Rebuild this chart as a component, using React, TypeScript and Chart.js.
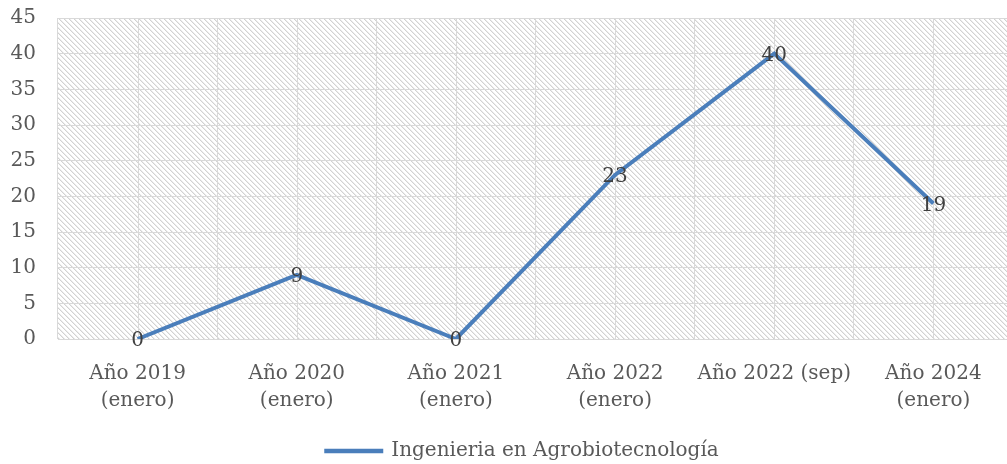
import React, { useEffect, useRef } from "react";
import { Chart, registerables } from "chart.js";
Chart.register(...registerables);

const categories: (string | string[])[] = [
  ["Año 2019", "(enero)"],
  ["Año 2020", "(enero)"],
  ["Año 2021", "(enero)"],
  ["Año 2022", "(enero)"],
  "Año 2022 (sep)",
  ["Año 2024", "(enero)"],
];
const values = [0, 9, 0, 23, 40, 19];
const seriesName = "Ingenieria en Agrobiotecnología";
const yMin = 0;
const yMax = 45;
const yStep = 5;

const FONT = "'DejaVu Serif', serif";
const LINE_COLOR = "#4a7ebb";
const TEXT_COLOR = "#595959";
const GRID_COLOR = "#d9d9d9";

function makePattern(ctx: CanvasRenderingContext2D) {
  const c = document.createElement("canvas");
  const n = 5;
  c.width = n;
  c.height = n;
  const g = c.getContext("2d")!;
  g.fillStyle = "#ffffff";
  g.fillRect(0, 0, n, n);
  for (let i = 0; i < n; i++) {
    g.fillStyle = "#d2d2d2";
    g.fillRect(i, i, 1, 1);
    g.fillStyle = "#ececec";
    g.fillRect((i + 1) % n, i, 1, 1);
  }
  return ctx.createPattern(c, "repeat")!;
}

const bgPlugin = {
  id: "hatchBg",
  afterLayout(chart: any) {
    const lg = chart.legend;
    if (lg) {
      lg.left -= 13;
      lg.right -= 13;
      lg.top += 7;
      lg.bottom += 7;
    }
  },
  beforeDraw(chart: any) {
    const { ctx, chartArea } = chart;
    if (!chartArea) return;
    ctx.save();
    ctx.fillStyle = makePattern(ctx);
    ctx.fillRect(chartArea.left, chartArea.top, chartArea.right - chartArea.left, chartArea.bottom - chartArea.top);
    ctx.restore();
  },
  beforeDatasetsDraw(chart: any) {
    const { ctx, chartArea, scales } = chart;
    const xs = scales.x;
    ctx.save();
    ctx.strokeStyle = GRID_COLOR;
    ctx.lineWidth = 1;
    for (let i = 0; i < categories.length; i++) {
      const x = Math.round(xs.getPixelForValue(i)) + 0.5;
      ctx.beginPath();
      ctx.moveTo(x, chartArea.top);
      ctx.lineTo(x, chartArea.bottom);
      ctx.stroke();
    }
    ctx.restore();
  },
  afterDatasetsDraw(chart: any) {
    const { ctx } = chart;
    const meta = chart.getDatasetMeta(0);
    ctx.save();
    ctx.font = `20px ${FONT}`;
    ctx.fillStyle = "#404040";
    ctx.textAlign = "center";
    ctx.textBaseline = "middle";
    meta.data.forEach((pt: any, i: number) => {
      ctx.fillText(String(values[i]), pt.x, pt.y + 2);
    });
    ctx.restore();
  },
};

export default function App() {
  const ref = useRef<HTMLCanvasElement>(null);
  useEffect(() => {
    if (!ref.current) return;
    const chart = new Chart(ref.current, {
      type: "line",
      data: {
        labels: categories,
        datasets: [
          {
            label: seriesName,
            data: values,
            borderColor: LINE_COLOR,
            backgroundColor: LINE_COLOR,
            borderWidth: 4,
            pointRadius: 0,
            pointHoverRadius: 0,
            tension: 0,
          },
        ],
      },
      options: {
        animation: false,
        responsive: true,
        maintainAspectRatio: false,
        layout: { padding: { left: 0, right: 0, top: 18, bottom: 0 }, autoPadding: false },
        plugins: {
          tooltip: { enabled: false },
          legend: {
            position: "bottom",
            fullSize: false,
            labels: {
              boxWidth: 55,
              boxHeight: 0.5,
              color: TEXT_COLOR,
              font: { family: FONT, size: 20 },
              padding: 5,
            },
          },
        },
        scales: {
          x: {
            offset: true,
            grid: { color: GRID_COLOR, offset: true, drawTicks: false },
            border: { color: GRID_COLOR },
            ticks: {
              color: TEXT_COLOR,
              font: { family: FONT, size: 20, lineHeight: 1.35 },
              padding: 21,
              maxRotation: 0,
              autoSkip: false,
            },
            afterFit(scale: any) {
              scale.height = 90;
              scale.paddingLeft = 0;
              scale.paddingRight = 0;
            },
          },
          y: {
            min: yMin,
            max: yMax,
            grid: { color: GRID_COLOR, drawTicks: false },
            border: { display: false },
            ticks: {
              stepSize: yStep,
              color: TEXT_COLOR,
              font: { family: FONT, size: 20 },
              padding: 22,
            },
            afterFit(scale: any) {
              scale.width = 58;
              scale.paddingTop = 0;
              scale.paddingBottom = 0;
            },
          },
        },
      },
      plugins: [bgPlugin],
    });
    return () => chart.destroy();
  }, []);
  return (
    <div style={{ position: "absolute", left: 0, top: 0, width: 1007, height: 464, overflow: "hidden", background: "#fff" }}>
      <div style={{ position: "relative", width: 1013, height: 464 }}>
        <canvas ref={ref} />
      </div>
    </div>
  );
}
